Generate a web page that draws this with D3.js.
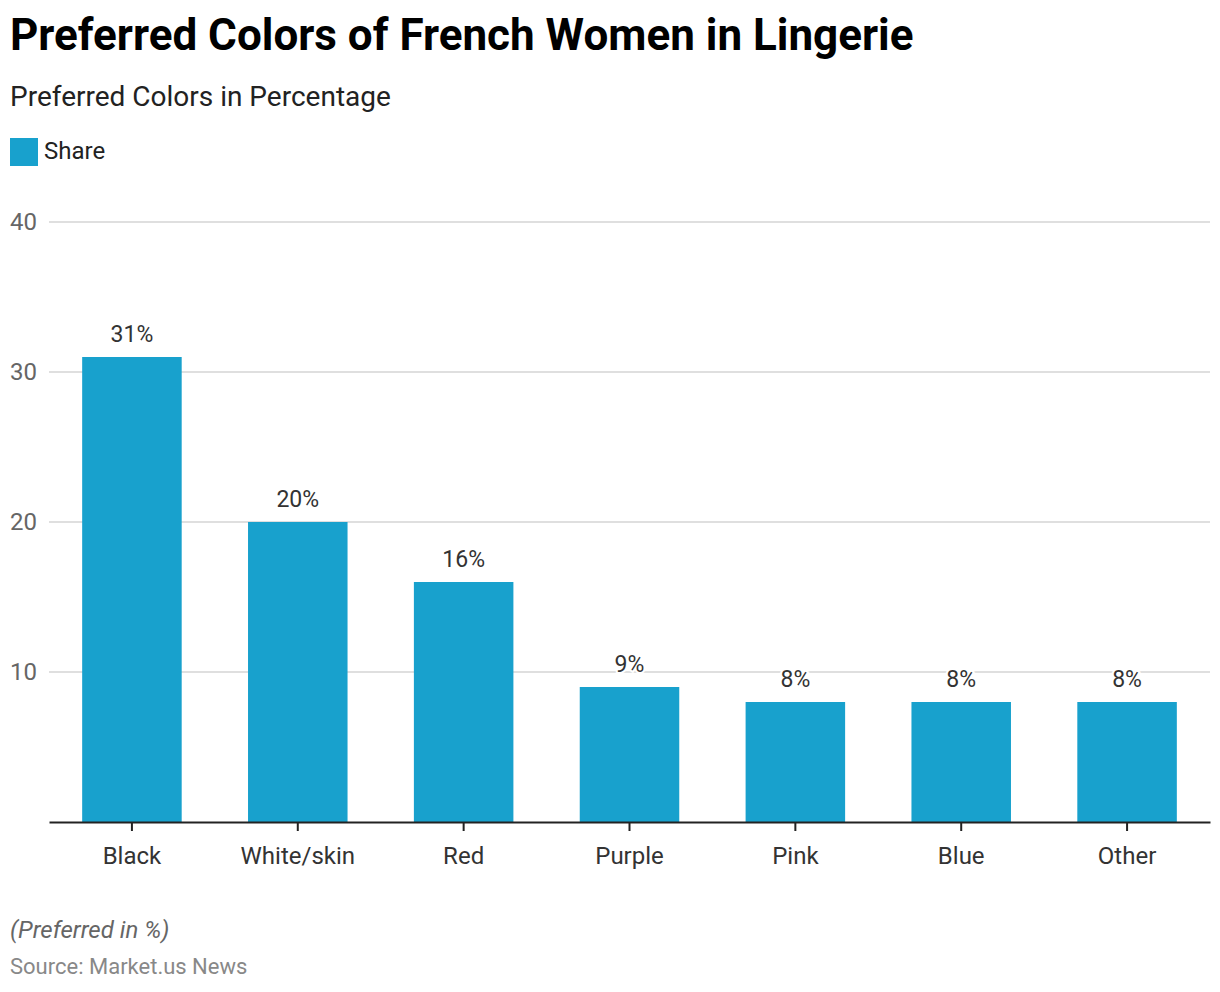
<!DOCTYPE html>
<html>
<head>
<meta charset="utf-8">
<script src="https://cdn.jsdelivr.net/npm/d3@7"></script>
<style>
  body { margin: 0; background: #fff; }
  text { font-family: Roboto, sans-serif; }
</style>
</head>
<body>
<script>
var categories = ["Black", "White/skin", "Red", "Purple", "Pink", "Blue", "Other"];
var shares = [31, 20, 16, 9, 8, 8, 8];
var yTicks = [10, 20, 30, 40];

var w = 1220,
    h = 992,
    plotLeft = 49,
    plotRight = 1210,
    plotTop = 222,
    plotBottom = 822,
    barColor = "#18a1cd";

var svg = d3.select("body").append("svg")
    .attr("width", w)
    .attr("height", h);

svg.append("text").attr("x", 10).attr("y", 50)
    .style("font-size", "44px").style("font-weight", "bold").attr("fill", "#000")
    .text("Preferred Colors of French Women in Lingerie");

svg.append("text").attr("x", 10).attr("y", 106)
    .style("font-size", "28px").attr("fill", "#222")
    .text("Preferred Colors in Percentage");

svg.append("rect").attr("x", 10).attr("y", 138).attr("width", 28).attr("height", 28)
    .attr("fill", barColor);
svg.append("text").attr("x", 44).attr("y", 159)
    .style("font-size", "24px").attr("fill", "#222")
    .text("Share");

var x = d3.scaleBand()
    .domain(categories)
    .range([plotLeft, plotRight])
    .paddingInner(0.4)
    .paddingOuter(0.2);

var y = d3.scaleLinear()
    .domain([0, 40])
    .range([plotBottom, plotTop]);

// grid lines + y labels
var grid = svg.append("g");
grid.selectAll("line")
    .data(yTicks)
    .enter().append("line")
    .attr("x1", plotLeft).attr("x2", plotRight)
    .attr("y1", function(d) { return y(d); })
    .attr("y2", function(d) { return y(d); })
    .attr("stroke", "#d4d4d4").attr("stroke-width", 1.5);

grid.selectAll("text")
    .data(yTicks)
    .enter().append("text")
    .attr("x", 37)
    .attr("y", function(d) { return y(d) + 8; })
    .attr("text-anchor", "end")
    .style("font-size", "24px").attr("fill", "#666")
    .text(function(d) { return d; });

svg.selectAll("rect.bar")
    .data(shares)
    .enter().append("rect")
    .attr("class", "bar")
    .attr("x", function(d, i) { return x(categories[i]); })
    .attr("y", function(d) { return y(d); })
    .attr("width", x.bandwidth())
    .attr("height", function(d) { return plotBottom - y(d); })
    .attr("fill", barColor);

svg.selectAll("text.val")
    .data(shares)
    .enter().append("text")
    .attr("class", "val")
    .attr("x", function(d, i) { return x(categories[i]) + x.bandwidth() / 2; })
    .attr("y", function(d) { return y(d) - 15; })
    .attr("text-anchor", "middle")
    .style("font-size", "23px").attr("fill", "#333")
    .attr("stroke", "#fff").attr("stroke-width", 4).attr("paint-order", "stroke")
    .text(function(d) { return d + "%"; });

var xAxis = svg.append("g")
    .attr("transform", "translate(0," + plotBottom + ")")
    .call(d3.axisBottom(x).tickSize(9).tickPadding(16).tickSizeOuter(0));
xAxis.select(".domain").attr("stroke", "#222").attr("stroke-width", 2);
xAxis.selectAll(".tick line").attr("stroke", "#222").attr("stroke-width", 2);
xAxis.selectAll(".tick text")
    .style("font-size", "24px").style("font-family", "Roboto, sans-serif").attr("fill", "#333");

svg.append("text").attr("x", 10).attr("y", 938)
    .style("font-size", "24px").style("font-style", "italic").attr("fill", "#666")
    .text("(Preferred in %)");

svg.append("text").attr("x", 10).attr("y", 974)
    .style("font-size", "22px").attr("fill", "#888")
    .text("Source: Market.us News");
</script>
</body>
</html>
